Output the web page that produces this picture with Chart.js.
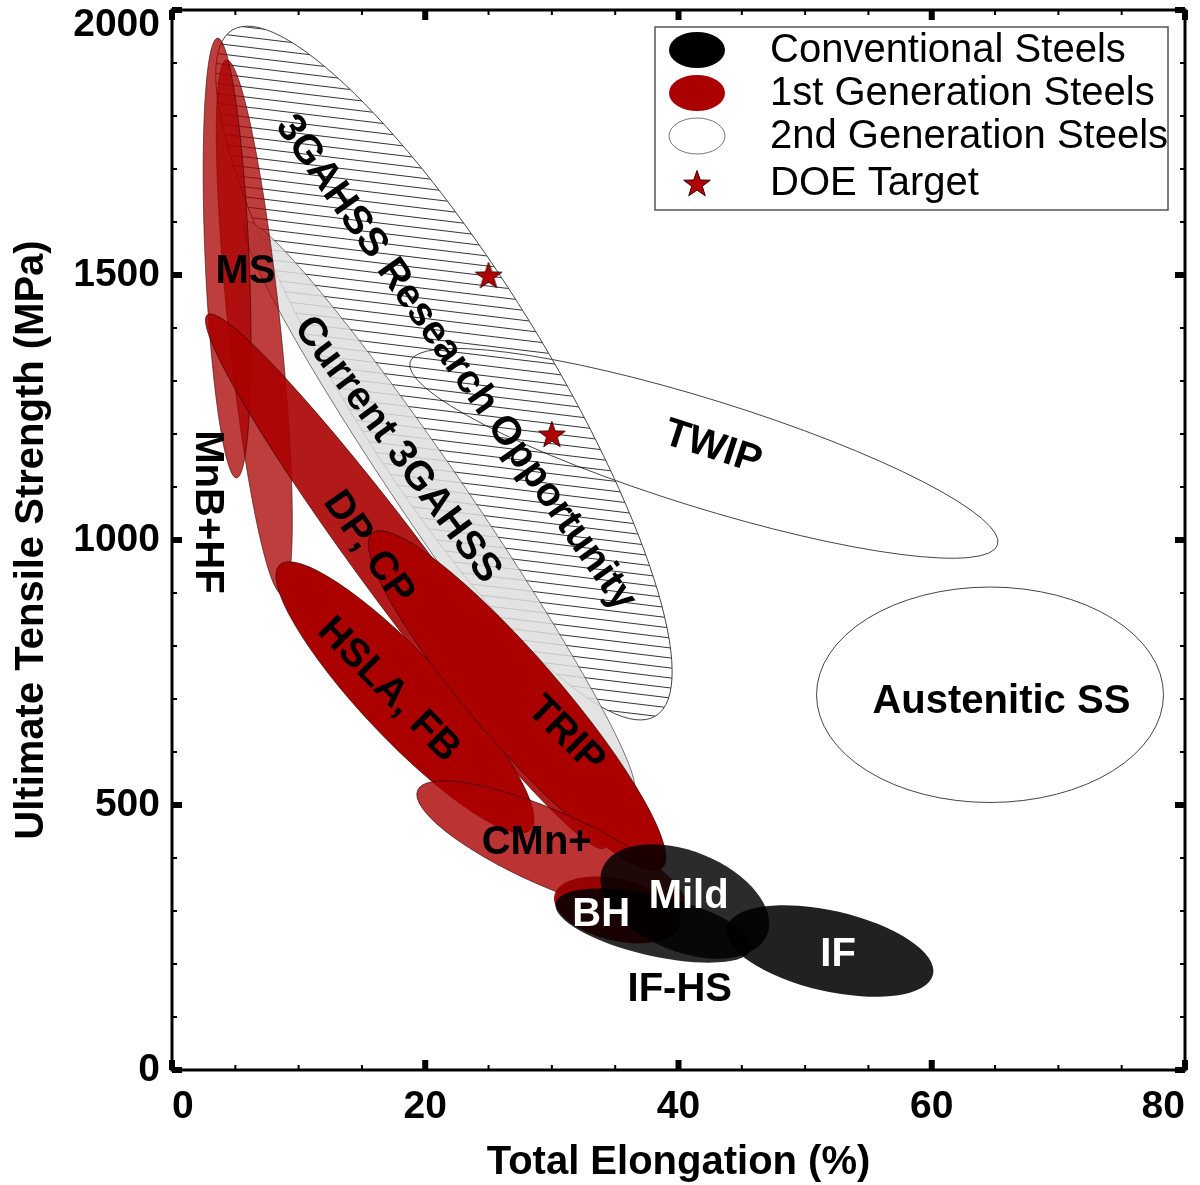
<!DOCTYPE html>
<html>
<head>
<meta charset="utf-8">
<script src="https://cdn.jsdelivr.net/npm/chart.js@4.4.1/dist/chart.umd.min.js"></script>
<style>
    html, body { margin: 0; padding: 0; background: #fff; }
</style>
</head>
<body>
<canvas id="chart" width="1200" height="1185"></canvas>
<script>
// Steel families: each envelope is an ellipse given by the two tips of its long axis
// (total elongation %, UTS MPa) and the ratio of its short axis to its long axis.
const bandNames = ['TWIP', 'Austenitic SS', '3GAHSS Research Opportunity', 'Current 3GAHSS',
    'MnB+HF', 'MS', 'DP, CP', 'HSLA, FB', 'TRIP', 'CMn+', 'BH', 'Mild', 'IF-HS', 'IF'];
const bandX1 = [18.8, 50.9, 4.75, 5.8, 4.3, 3.6, 2.8, 8.5, 15.8, 19.4, 30.2, 34.0, 30.3, 43.8];
const bandY1 = [1336, 708, 1962, 1600, 1906, 1947, 1425, 953, 1013, 528, 330, 381, 315, 269];
const bandX2 = [65.2, 78.3, 38.2, 36.4, 8.7, 5.1, 34.2, 28.3, 38.7, 40.5, 40.1, 47.0, 45.8, 60.1];
const bandY2 = [991, 708, 668, 525, 898, 1117, 419, 453, 381, 306, 274, 255, 230, 180];
const bandRatio = [0.175, 0.621, 0.248, 0.094, 0.097, 0.10, 0.105, 0.233, 0.199, 0.257, 0.48, 0.565, 0.30, 0.38];

// DOE targets
const targetElong = [25, 30];
const targetUts = [1500, 1200];

// text placed on the envelopes (data coordinates, rotation in degrees)
const labelText = ['MS', 'MnB+HF', '3GAHSS Research Opportunity', 'Current 3GAHSS', 'DP, CP', 'HSLA, FB',
    'TRIP', 'CMn+', 'BH', 'Mild', 'IF-HS', 'IF', 'TWIP', 'Austenitic SS'];
const labelX = [5.8, 2.8, 22.4, 17.8, 15.5, 17.1, 31.1, 28.8, 33.9, 40.8, 40.1, 52.6, 42.7, 65.5];
const labelY = [1506, 1053, 1334, 1170, 985, 717, 632, 428, 292, 326, 151, 217, 1174, 694];
const labelAngle = [0, 90, 54.8, 53.5, 55, 45.5, 45, 0, 0, 0, 0, 0, 18, 0];

const legendLabels = ['Conventional Steels', '1st Generation Steels', '2nd Generation Steels', 'DOE Target'];

const RED = '#aa0000';
const bandStyle = {
    'TWIP': { stroke: '#444', lw: 1 },
    'Austenitic SS': { stroke: '#444', lw: 1 },
    '3GAHSS Research Opportunity': { hatch: true, stroke: '#444', lw: 1 },
    'Current 3GAHSS': { fill: 'rgba(222,222,222,0.85)', stroke: '#555', lw: 0.8 },
    'MnB+HF': { fill: 'rgba(170,0,0,0.76)', stroke: 'rgba(40,0,0,0.7)', lw: 0.8 },
    'MS': { fill: 'rgba(170,0,0,0.76)', stroke: 'rgba(40,0,0,0.7)', lw: 0.8 },
    'DP, CP': { fill: 'rgba(170,0,0,0.9)', stroke: 'rgba(40,0,0,0.8)', lw: 0.8 },
    'HSLA, FB': { fill: RED, stroke: 'rgba(40,0,0,0.8)', lw: 0.8 },
    'TRIP': { fill: RED, stroke: 'rgba(40,0,0,0.8)', lw: 0.8 },
    'CMn+': { fill: 'rgba(170,0,0,0.8)', stroke: 'rgba(40,0,0,0.8)', lw: 0.8 },
    'BH': { fill: 'rgba(150,0,0,0.95)' },
    'Mild': { fill: 'rgba(0,0,0,0.83)' },
    'IF-HS': { fill: 'rgba(0,0,0,0.83)' },
    'IF': { fill: 'rgba(0,0,0,0.87)' }
};
const whiteLabels = ['BH', 'Mild', 'IF'];
const FONT = '"Liberation Sans", Arial, Helvetica, sans-serif';

function makeStar(size) {
    const c = document.createElement('canvas');
    c.width = c.height = size;
    const g = c.getContext('2d');
    const r = size / 2 - 1;
    g.beginPath();
    for (let i = 0; i < 10; i++) {
        const rr = i % 2 ? r * 0.4 : r;
        const a = -Math.PI / 2 + i * Math.PI / 5;
        g.lineTo(size / 2 + rr * Math.cos(a), size / 2 + 1.5 + rr * Math.sin(a));
    }
    g.closePath();
    g.fillStyle = '#b00000';
    g.fill();
    g.strokeStyle = '#3a0000';
    g.lineWidth = 1;
    g.stroke();
    return c;
}
const star = makeStar(30);

function ellipsePath(ctx, xs, ys, i) {
    const x1 = xs.getPixelForValue(bandX1[i]), y1 = ys.getPixelForValue(bandY1[i]);
    const x2 = xs.getPixelForValue(bandX2[i]), y2 = ys.getPixelForValue(bandY2[i]);
    const a = Math.hypot(x2 - x1, y2 - y1) / 2;
    ctx.beginPath();
    ctx.ellipse((x1 + x2) / 2, (y1 + y2) / 2, a, a * bandRatio[i], Math.atan2(y2 - y1, x2 - x1), 0, Math.PI * 2);
    return { cx: (x1 + x2) / 2, cy: (y1 + y2) / 2, a };
}

const bandsPlugin = {
    id: 'bands',
    beforeDatasetsDraw(chart) {
        const { ctx, chartArea: area, scales: { x, y } } = chart;
        ctx.save();
        ctx.beginPath();
        ctx.rect(area.left, area.top, area.width, area.height);
        ctx.clip();

        bandNames.forEach((name, i) => {
            const st = bandStyle[name];
            const e = ellipsePath(ctx, x, y, i);
            if (st.hatch) {
                ctx.save();
                ctx.clip();
                ctx.beginPath();
                const left = e.cx - e.a - 20, right = e.cx + e.a + 20;
                for (let yy = e.cy - e.a - 120; yy < e.cy + e.a + 20; yy += 10) {
                    ctx.moveTo(left, yy);
                    ctx.lineTo(right, yy + 0.12 * (right - left));
                }
                ctx.strokeStyle = '#000';
                ctx.lineWidth = 0.8;
                ctx.stroke();
                ctx.restore();
                ellipsePath(ctx, x, y, i);
            }
            if (st.fill) {
                ctx.fillStyle = st.fill;
                ctx.fill();
            }
            if (st.stroke) {
                ctx.strokeStyle = st.stroke;
                ctx.lineWidth = st.lw;
                ctx.stroke();
            }
        });

        ctx.font = 'bold 40px ' + FONT;
        ctx.textAlign = 'center';
        ctx.textBaseline = 'middle';
        labelText.forEach((t, i) => {
            ctx.save();
            ctx.translate(x.getPixelForValue(labelX[i]), y.getPixelForValue(labelY[i]));
            ctx.rotate(labelAngle[i] * Math.PI / 180);
            ctx.fillStyle = whiteLabels.includes(t) ? '#fff' : '#000';
            ctx.fillText(t, 0, 0);
            ctx.restore();
        });
        ctx.restore();
    },
    afterDraw(chart) {
        const { ctx, chartArea: area, scales: { x, y } } = chart;
        ctx.save();
        ctx.fillStyle = '#000';

        // inward ticks on all four sides
        const xMajor = x.ticks.map(t => t.value);
        const yMajor = y.ticks.map(t => t.value);
        for (let v = x.min; v <= x.max; v += 5) {
            const px = x.getPixelForValue(v);
            const major = xMajor.includes(v);
            const w = major ? 6 : 2, l = major ? 10 : 5;
            ctx.fillRect(px - w / 2, area.bottom - l, w, l);
            ctx.fillRect(px - w / 2, area.top, w, l);
        }
        for (let v = y.min; v <= y.max; v += 100) {
            const py = y.getPixelForValue(v);
            const major = yMajor.includes(v);
            const w = major ? 6 : 2, l = major ? 10 : 5;
            ctx.fillRect(area.left, py - w / 2, l, w);
            ctx.fillRect(area.right - l, py - w / 2, l, w);
        }
        ctx.strokeStyle = '#000';
        ctx.lineWidth = 3;
        ctx.strokeRect(area.left, area.top, area.width, area.height);

        // legend box
        const lx = area.right - 530, ly = area.top + 17, lw = 513, lh = 183;
        ctx.fillStyle = '#fff';
        ctx.fillRect(lx, ly, lw, lh);
        ctx.strokeStyle = '#555';
        ctx.lineWidth = 1.5;
        ctx.strokeRect(lx, ly, lw, lh);
        const rows = [23, 66, 109, 156];
        const markers = [
            { fill: '#000' },
            { fill: RED },
            { fill: '#fff', stroke: '#777' },
            { star: true }
        ];
        ctx.font = '40px ' + FONT;
        ctx.textAlign = 'left';
        ctx.textBaseline = 'middle';
        legendLabels.forEach((t, i) => {
            const my = ly + rows[i];
            const m = markers[i];
            if (m.star) {
                ctx.drawImage(star, lx + 42 - 15, my - 15);
            } else {
                ctx.beginPath();
                ctx.ellipse(lx + 42, my, 28, 18, 0, 0, Math.PI * 2);
                ctx.fillStyle = m.fill;
                ctx.fill();
                if (m.stroke) {
                    ctx.strokeStyle = m.stroke;
                    ctx.lineWidth = 1;
                    ctx.stroke();
                }
            }
            ctx.fillStyle = '#000';
            ctx.fillText(t, lx + 115, my + 1);
        });
        ctx.restore();
    }
};

const tickFont = { family: FONT, size: 39, weight: 'bold' };
const titleFont = { family: FONT, size: 40, weight: 'bold', lineHeight: 1.1 };

new Chart(document.getElementById('chart'), {
    type: 'scatter',
    data: {
        datasets: [{
            label: 'DOE Target',
            data: targetElong.map((v, i) => ({ x: v, y: targetUts[i] })),
            pointStyle: star,
            pointRadius: 15,
            pointHoverRadius: 15
        }]
    },
    options: {
        responsive: false,
        animation: false,
        devicePixelRatio: 1,
        layout: { autoPadding: false, padding: { top: 10, right: 15, bottom: 0, left: 0 } },
        plugins: { legend: { display: false }, tooltip: { enabled: false } },
        scales: {
            x: {
                type: 'linear', min: 0, max: 80,
                grid: { display: false, drawTicks: false },
                border: { display: false },
                ticks: { stepSize: 20, align: 'inner', padding: 14, color: '#000', font: tickFont },
                title: { display: true, text: 'Total Elongation (%)', color: '#000', font: titleFont, padding: { top: 0, bottom: 0 } },
                afterFit: s => { s.height = 115; s.paddingLeft = 0; s.paddingRight = 0; }
            },
            y: {
                type: 'linear', min: 0, max: 2000,
                grid: { display: false, drawTicks: false },
                border: { display: false },
                ticks: {
                    stepSize: 500, padding: 12, color: '#000',
                    font: Object.assign({}, tickFont, { lineHeight: 0.8 }),
                    callback: v => v === 2000 ? ['', '2000'] : String(v)
                },
                title: { display: true, text: 'Ultimate Tensile Strength (MPa)', color: '#000', font: titleFont, padding: { top: 10, bottom: 0 } },
                afterFit: s => { s.width = 172; s.paddingTop = 0; s.paddingBottom = 0; }
            }
        }
    },
    plugins: [bandsPlugin]
});
</script>
</body>
</html>
